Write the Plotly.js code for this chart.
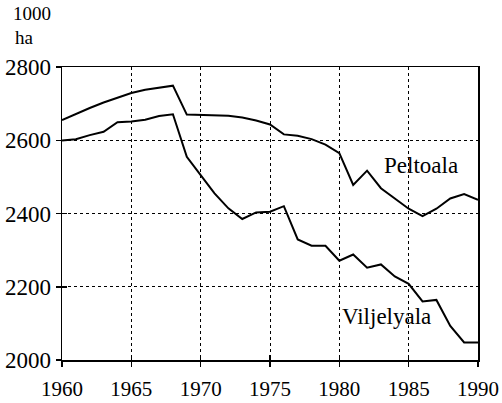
<!DOCTYPE html>
<html>
<head>
<meta charset="utf-8">
<script src="https://cdn.plot.ly/plotly-3.0.1.min.js"></script>
<style>html,body{margin:0;padding:0;background:#fff;}#chart{width:502px;height:403px;}</style>
</head>
<body>
<div id="chart"></div>
<script>
const years = [1960,1961,1962,1963,1964,1965,1966,1967,1968,1969,1970,1971,1972,1973,1974,1975,1976,1977,1978,1979,1980,1981,1982,1983,1984,1985,1986,1987,1988,1989,1990];
const peltoala = [2655,2672,2688,2703,2716,2729,2738,2743,2749,2670,2669,2669,2667,2662,2654,2643,2616,2612,2603,2588,2565,2478,2517,2469,2441,2413,2393,2413,2441,2453,2437];
const viljelyala = [2599,2603,2614,2623,2649,2651,2656,2666,2671,2555,2505,2455,2414,2385,2403,2405,2420,2329,2312,2312,2271,2288,2252,2261,2228,2208,2160,2164,2093,2048,2048];
const xTicks = [1960,1965,1970,1975,1980,1985,1990];
const yTicks = [2000,2200,2400,2600,2800];
const seriesLabels = ['Peltoala','Viljelyala'];
const unitLines = ['1000','ha'];

const fontFam = 'Times New Roman';
const lineStyle = {color:'#000', width:2};
const data = [
  {x: years, y: peltoala, type:'scatter', mode:'lines', line: lineStyle, name: seriesLabels[0]},
  {x: years, y: viljelyala, type:'scatter', mode:'lines', line: lineStyle, name: seriesLabels[1]},
  {x: [years[0]], y: [yTicks[0]], xaxis:'x2', yaxis:'y2', type:'scatter', mode:'markers', marker:{opacity:0}, hoverinfo:'skip'}
];
const axisCommon = {
  showline:true, linecolor:'#000', linewidth:1.5, mirror:true,
  showgrid:true, gridcolor:'#000', gridwidth:1, griddash:'dot',
  ticks:'outside', ticklen:5, tickcolor:'#000', tickwidth:1.5,
  zeroline:false
};
const innerTicks = {showline:false, showgrid:false, zeroline:false, ticks:'inside', ticklen:5, tickcolor:'#000', tickwidth:1.5, showticklabels:false};
const plotW = 502-62-24, plotH = 403-67-43;
const layout = {
  width:502, height:403,
  font:{family:fontFam, size:21, color:'#000'},
  margin:{l:62, r:24, t:67, b:43},
  paper_bgcolor:'#fff', plot_bgcolor:'#fff',
  showlegend:false,
  xaxis: Object.assign({}, axisCommon, {range:[1960,1990], tickvals:xTicks, tickfont:{family:fontFam, size:21, color:'#000'}, ticklabelstandoff:4}),
  yaxis: Object.assign({}, axisCommon, {range:[2000,2800], tickvals:yTicks, tickfont:{family:fontFam, size:23, color:'#000'}, ticklabelstandoff:0}),
  xaxis2: Object.assign({}, innerTicks, {overlaying:'x', anchor:'y', range:[1960,1990], tickvals:xTicks}),
  yaxis2: Object.assign({}, innerTicks, {overlaying:'y', anchor:'x', range:[2000,2800], tickvals:yTicks}),
  annotations: [
    {x:1985.9, y:2530, xref:'x', yref:'y', text:seriesLabels[0], showarrow:false, font:{family:fontFam, size:23, color:'#000'}},
    {x:1983.4, y:2120, xref:'x', yref:'y', text:seriesLabels[1], showarrow:false, font:{family:fontFam, size:23, color:'#000'}},
    {x:(31.5-62)/plotW, y:(360-14)/plotH, xref:'paper', yref:'paper', xanchor:'center', yanchor:'middle', text:unitLines[0], showarrow:false, font:{family:fontFam, size:19, color:'#000'}},
    {x:(24.5-62)/plotW, y:(360-37)/plotH, xref:'paper', yref:'paper', xanchor:'center', yanchor:'middle', text:unitLines[1], showarrow:false, font:{family:fontFam, size:19, color:'#000'}}
  ]
};
Plotly.newPlot('chart', data, layout, {staticPlot:true, displayModeBar:false}).then(function(gd){
  gd.querySelectorAll('text').forEach(function(t){
    t.style.fontFamily = '"Liberation Serif", "Times New Roman", serif';
    t.setAttribute('font-family', 'Liberation Serif');
  });
});
</script>
</body>
</html>
